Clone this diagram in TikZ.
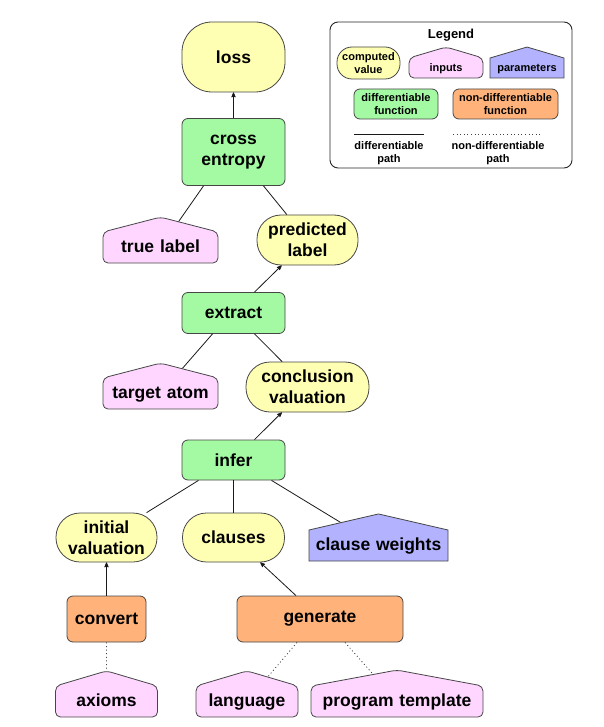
\documentclass[tikz,border=0pt]{standalone}
\usepackage{fontspec}
\setmainfont{Liberation Sans}
\usepackage{tikz}
\usetikzlibrary{arrows,shapes.symbols}
\definecolor{valcol}{RGB}{255,255,179}
\definecolor{difcol}{RGB}{163,250,163}
\definecolor{ndfcol}{RGB}{255,179,122}
\definecolor{inpcol}{RGB}{255,214,255}
\definecolor{parcol}{RGB}{178,178,255}
\definecolor{bordcol}{RGB}{70,70,70}
\newcommand{\nodefnt}{\bfseries\fontsize{17.5}{21}\selectfont}
\newcommand{\legfnt}{\bfseries\fontsize{11}{13.5}\selectfont}
\tikzstyle{val_n} = [rectangle, rounded corners=24pt, draw=bordcol, fill=valcol, line width=0.8pt, align=center, font=\nodefnt, inner sep=0pt]
\tikzstyle{dif_f} = [rectangle, rounded corners=6pt, draw=bordcol, fill=difcol, line width=0.8pt, align=center, font=\nodefnt, inner sep=0pt]
\tikzstyle{ndf_f} = [rectangle, rounded corners=6pt, draw=bordcol, fill=ndfcol, line width=0.8pt, align=center, font=\nodefnt, inner sep=0pt]
\tikzstyle{inp_n} = [signal, signal to=north, signal from=nowhere, rounded corners=5pt, draw=bordcol, fill=inpcol, line width=0.8pt, align=center, font=\nodefnt, inner xsep=0pt, inner ysep=7pt, text height=13pt, text depth=4pt, minimum width=0pt, minimum height=0pt]
\tikzstyle{par_n} = [signal, signal to=north, signal from=nowhere, draw=bordcol, fill=parcol, line width=0.8pt, align=center, font=\nodefnt, inner xsep=0pt, inner ysep=7pt, text height=13pt, text depth=4pt, minimum width=0pt, minimum height=0pt]
\tikzstyle{leg_n} = [font=\legfnt]
\tikzstyle{leg_s} = [font=\legfnt, inner ysep=4.7pt, text height=8.4pt, text depth=2.2pt]
\tikzstyle{leg_box} = [rectangle, rounded corners=8pt, draw=black!85, line width=0.9pt, inner sep=0pt]
\tikzstyle{con_d} = [draw=black!90, line width=0.8pt]
\tikzstyle{con_n} = [draw=black!75, line width=0.8pt, dash pattern=on 1pt off 2.6pt]

\begin{document}
\begin{tikzpicture}[x=1pt,y=-1pt,>=stealth']
\useasboundingbox (0,0) rectangle (604,727);

% legend
\node [leg_box, minimum width=242, minimum height=146] (leg) at (451,95) {};
\node [font=\bfseries\fontsize{13}{15}\selectfont] (legtitle) at (451,35) {Legend};
\node [val_n, leg_n, rounded corners=15pt, minimum width=63, minimum height=32] (leg_val) at (368.5,63) {computed\\value};
\node [inp_n, leg_s, text width=74, signal pointer angle=147] (leg_inp) at (446,68) {inputs};
\node [par_n, leg_s, text width=74, signal pointer angle=147] (leg_par) at (527,68) {parameters};
\node [dif_f, leg_n, minimum width=84, minimum height=30] (leg_dif) at (396,104) {differentiable\\function};
\node [ndf_f, leg_n, minimum width=105, minimum height=30] (leg_ndf) at (505.5,104) {non-differentiable\\function};
\coordinate (leg_d1) at (354,134);
\coordinate (leg_d2) at (424,134);
\coordinate (leg_n1) at (453,134);
\coordinate (leg_n2) at (543,134);
\draw [con_d] (leg_d1) -- (leg_d2);
\draw [con_n] (leg_n1) -- (leg_n2);
\node [leg_n, align=center] (leg_dpath) at (389,153) {differentiable\\path};
\node [leg_n, align=center] (leg_npath) at (498,153) {non-differentiable\\path};

% nodes
\node [val_n, rounded corners=30pt, minimum width=103, minimum height=70] (loss) at (233.5,57) {loss};
\node [dif_f, minimum width=103, minimum height=67] (cross) at (233.5,152) {cross\\entropy};
\node [inp_n, text width=115, signal pointer angle=151] (truelab) at (160.5,247.5) {true label};
\node [val_n, minimum width=101, minimum height=50] (predlab) at (307.5,240) {predicted\\label};
\node [dif_f, minimum width=103, minimum height=41] (extract) at (233.5,313) {extract};
\node [inp_n, text width=115, signal pointer angle=151] (target) at (160.5,393.5) {target atom};
\node [val_n, minimum width=123, minimum height=50] (concl) at (307.5,387) {conclusion\\valuation};
\node [dif_f, minimum width=103, minimum height=40] (infer) at (233.5,460) {infer};
\node [val_n, minimum width=101, minimum height=49] (initval) at (106.5,537.5) {initial\\valuation};
\node [val_n, minimum width=102, minimum height=49] (clauses) at (233.5,537.5) {clauses};
\node [par_n, text width=139, signal pointer angle=154] (weights) at (378.5,545.5) {clause weights};
\node [ndf_f, minimum width=79, minimum height=46] (convert) at (106.5,619) {convert};
\node [ndf_f, minimum width=166, minimum height=46] (generate) at (320,619) {generate};
\node [inp_n, text width=102, signal pointer angle=147] (axioms) at (106.5,701.5) {axioms};
\node [inp_n, text width=102, signal pointer angle=147] (lang) at (247,701.5) {language};
\node [inp_n, text width=172, signal pointer angle=159] (progtmp) at (397,701.5) {program template};

% connectors
\draw [con_d, ->] (cross) -- (loss);
\draw [con_d] ([xshift=-30]cross.south) -- (truelab);
\draw [con_d] ([xshift=30]cross.south) -- (predlab);
\draw [con_d, ->] ([xshift=21]extract.north) -- (predlab);
\draw [con_d] ([xshift=-21]extract.south) -- (target);
\draw [con_d] ([xshift=21]extract.south) -- (concl);
\draw [con_d, ->] ([xshift=21]infer.north) -- (concl);
\draw [con_d] ([xshift=-35]infer.south) -- (initval);
\draw [con_d] (infer) -- (clauses);
\draw [con_d] ([xshift=38]infer.south) -- (weights);
\draw [con_d, ->] (convert) -- (initval);
\draw [con_d, ->] ([xshift=-24]generate.north) -- (clauses);
\draw [con_n] (convert) -- (axioms);
\draw [con_n] ([xshift=-23]generate.south) -- (lang);
\draw [con_n] ([xshift=25]generate.south) -- (progtmp);
\end{tikzpicture}
\end{document}
